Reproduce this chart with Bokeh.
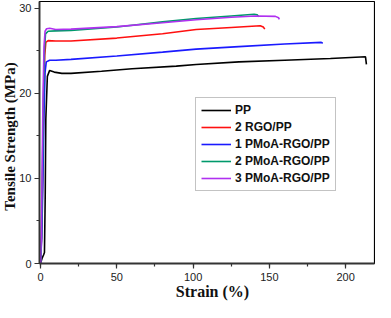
import math
from bokeh.plotting import figure
from bokeh.models import Range1d, SingleIntervalTicker, Legend, LegendItem, Label
from bokeh.embed import file_html
from bokeh.resources import INLINE

# ---- data ----
pp_x = [0, 1.0, 2.0, 2.6, 3.1, 3.5, 4.5, 6, 9, 14, 20, 40, 60, 89, 102, 130, 160, 190, 213, 213.6]
pp_y = [0, 0.6, 1.0, 1.3, 8, 17, 22.0, 22.7, 22.5, 22.35, 22.35, 22.6, 22.9, 23.2, 23.4, 23.7, 23.9, 24.1, 24.3, 23.4]

rgo_x = [0, 0.7, 1.4, 2.1, 2.8, 3.5, 5, 10, 20, 50, 80, 102, 125, 144, 146, 147]
rgo_y = [0, 3, 10, 18, 24.5, 26.0, 26.2, 26.15, 26.15, 26.5, 27.0, 27.5, 27.75, 27.95, 27.8, 27.55]

p1_x = [0, 0.8, 1.5, 2.2, 3.0, 3.8, 6, 10, 20, 50, 80, 102, 130, 160, 184, 185]
p1_y = [0, 3, 9, 17, 22.5, 23.7, 23.9, 23.9, 24.0, 24.4, 24.85, 25.2, 25.5, 25.8, 26.0, 25.9]

p2_x = [0, 0.6, 1.2, 1.9, 2.6, 3.3, 5, 10, 20, 50, 80, 102, 125, 140, 142, 143]
p2_y = [0, 3, 10, 19, 25, 27.0, 27.3, 27.35, 27.4, 27.8, 28.4, 28.8, 29.1, 29.3, 29.25, 29.0]

p3_x = [0, 0.5, 1.0, 1.6, 2.3, 3.0, 4, 6, 10, 20, 50, 80, 102, 125, 141, 154, 156, 156.5]
p3_y = [0, 3, 10, 19, 25.5, 27.3, 27.6, 27.65, 27.5, 27.55, 27.85, 28.3, 28.65, 28.95, 29.1, 29.05, 28.9, 28.7]

names = ["PP", "2 RGO/PP", "1 PMoA-RGO/PP", "2 PMoA-RGO/PP", "3 PMoA-RGO/PP"]
colors = ["#000000", "#ff1010", "#1a1aff", "#00996b", "#b030f0"]
xs = [pp_x, rgo_x, p1_x, p2_x, p3_x]
ys = [pp_y, rgo_y, p1_y, p2_y, p3_y]

x_label = "Strain (%)"
y_label = "Tensile Strength (MPa)"

W, H = 375, 302
BL, BR, BT, BB = 37, 1, 1, 39
frame_w = W - BL - BR
frame_h_est = 254

p = figure(width=W, height=H, output_backend="svg", toolbar_location=None,
           x_range=Range1d(-0.65, -0.65 + frame_w / 1.535),
           y_range=Range1d(0, 30.8),
           min_border_left=BL, min_border_right=BR, min_border_top=BT, min_border_bottom=BB)
p.background_fill_color = "white"
p.border_fill_color = "white"
p.outline_line_color = "black"
p.outline_line_width = 1.2
p.xgrid.visible = False
p.ygrid.visible = False

items = []
for n, c, x, y in zip(names, colors, xs, ys):
    r = p.line(x, y, line_color=c, line_width=1.6)
    items.append(LegendItem(label=n, renderers=[r]))

p.xaxis.ticker = SingleIntervalTicker(interval=50, num_minor_ticks=2)
p.yaxis.ticker = SingleIntervalTicker(interval=10, num_minor_ticks=2)

for ax in (p.xaxis[0], p.yaxis[0]):
    ax.axis_line_color = "#333333"
    ax.axis_line_width = 1.8
    ax.major_tick_line_color = "#333333"
    ax.minor_tick_line_color = "#333333"
    ax.major_tick_line_width = 1.2
    ax.minor_tick_line_width = 1.2
    ax.major_tick_out = 5
    ax.major_tick_in = 0
    ax.minor_tick_out = 3
    ax.minor_tick_in = 0
    ax.major_label_text_font = "Liberation Sans"
    ax.major_label_text_font_size = "11px"
    ax.major_label_text_color = "#222222"
    ax.major_label_standoff = 3
p.xaxis.major_label_standoff = 4

label_style = dict(text_font="Liberation Serif", text_font_style="bold",
                   text_color="#111111",
                   x_units="screen", y_units="screen",
                   text_align="center", text_baseline="middle")
p.add_layout(Label(x=173, y=9, text=x_label, text_font_size="16px", **label_style), "below")
p.add_layout(Label(x=9, y=frame_h_est / 2, text=y_label, angle=math.pi / 2,
                   text_font_size="15px", **label_style), "left")

legend = Legend(items=items, location=(156, 72))
legend.label_text_font = "Liberation Sans"
legend.label_text_font_style = "bold"
legend.label_text_font_size = "12px"
legend.label_text_color = "#111111"
legend.glyph_width = 30
legend.glyph_height = 14
legend.label_height = 14
legend.label_standoff = 4
legend.spacing = 3
legend.padding = 5
legend.margin = 0
legend.border_line_color = "#888888"
legend.border_line_width = 1
legend.background_fill_alpha = 1
p.add_layout(legend, "center")

open("out.html", "w").write(file_html(p, INLINE))
